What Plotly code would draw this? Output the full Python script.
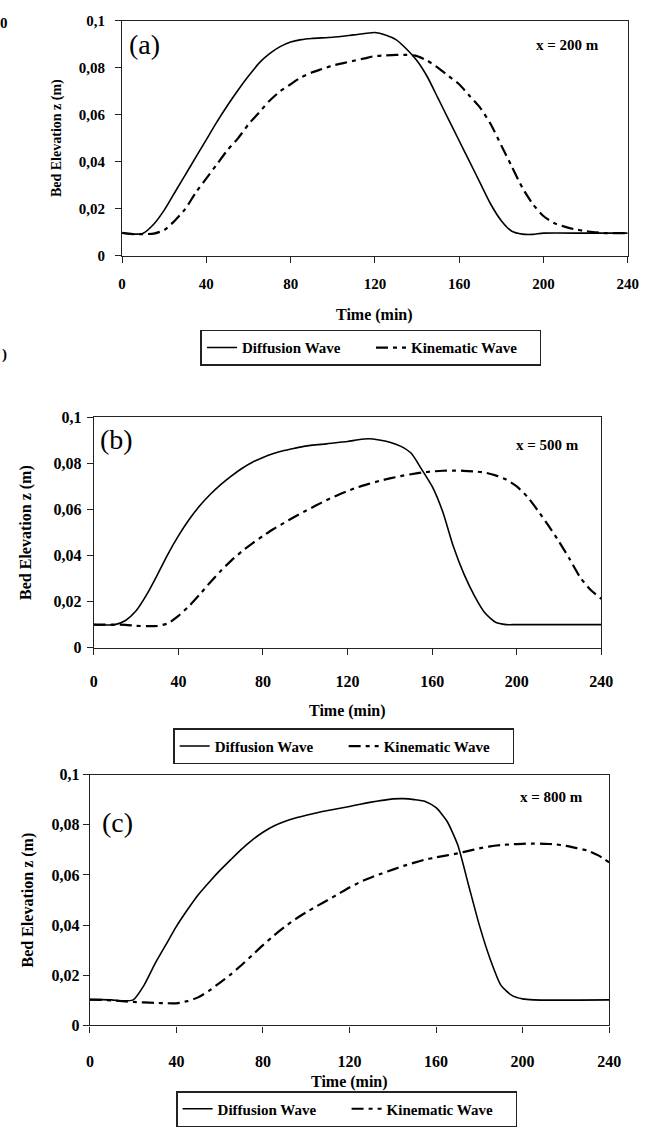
import plotly.graph_objects as go

W, H = 668, 1127

# ---------------- data ----------------
time_diff_a = [0, 5, 10, 15, 20, 25, 30, 35, 40, 45, 50, 55, 60, 65, 70, 75, 80, 85, 90, 100, 110, 120,
               125, 130, 135, 140, 145, 150, 155, 160, 165, 170, 175, 180, 185, 190, 195, 200, 220, 240]
diff_a = [0.0098, 0.0093, 0.0097, 0.0135, 0.0195, 0.027, 0.0345, 0.042, 0.0495, 0.057, 0.064, 0.0705,
          0.0765, 0.082, 0.086, 0.089, 0.091, 0.092, 0.0925, 0.093, 0.094, 0.095, 0.094, 0.092, 0.088,
          0.083, 0.076, 0.067, 0.058, 0.049, 0.040, 0.031, 0.022, 0.015, 0.0105, 0.0093, 0.0092, 0.0097,
          0.0097, 0.0097]

time_kin_a = [0, 5, 10, 15, 20, 25, 30, 35, 40, 45, 50, 55, 60, 65, 70, 75, 80, 85, 90, 95, 100, 105,
              110, 115, 120, 125, 130, 135, 140, 145, 150, 155, 160, 165, 170, 175, 180, 185, 190, 195,
              200, 205, 210, 215, 220, 225, 230, 240]
kin_a = [0.0098, 0.0093, 0.0093, 0.0095, 0.011, 0.015, 0.020, 0.027, 0.033, 0.039, 0.045, 0.050, 0.056,
         0.061, 0.066, 0.070, 0.073, 0.076, 0.078, 0.0795, 0.081, 0.082, 0.083, 0.084, 0.085, 0.0853,
         0.0855, 0.0855, 0.085, 0.083, 0.080, 0.0765, 0.073, 0.068, 0.063, 0.056, 0.047, 0.038, 0.029,
         0.022, 0.017, 0.014, 0.0125, 0.0113, 0.0106, 0.010, 0.0097, 0.0097]

time_diff_b = [0, 5, 10, 15, 20, 25, 30, 35, 40, 45, 50, 55, 60, 65, 70, 75, 80, 85, 90, 95, 100, 110, 120,
               125, 130, 135, 140, 145, 150, 155, 160, 165, 170, 175, 180, 185, 190, 195, 200, 230, 240]
diff_b = [0.0100, 0.0098, 0.0100, 0.0118, 0.0160, 0.023, 0.0315, 0.0405, 0.0485, 0.0555, 0.0615, 0.0665,
          0.0708, 0.0745, 0.0778, 0.0805, 0.0826, 0.0843, 0.0856, 0.0866, 0.0875, 0.0885, 0.0895, 0.0903,
          0.0907, 0.0902, 0.0892, 0.0875, 0.0845, 0.0775, 0.070, 0.059, 0.044, 0.032, 0.0225, 0.015,
          0.0110, 0.0100, 0.0100, 0.0100, 0.0100]

time_kin_b = [0, 5, 10, 15, 20, 25, 30, 35, 40, 45, 50, 55, 60, 65, 70, 75, 80, 85, 90, 95, 100, 105, 110,
              115, 120, 125, 130, 135, 140, 145, 150, 155, 160, 165, 170, 175, 180, 185, 190, 195, 200,
              205, 210, 215, 220, 225, 230, 235, 240]
kin_b = [0.0100, 0.0100, 0.0100, 0.0099, 0.0095, 0.0093, 0.0094, 0.0105, 0.0138, 0.0180, 0.0230, 0.0283,
         0.0333, 0.0378, 0.0418, 0.0453, 0.0485, 0.0515, 0.0542, 0.0568, 0.0593, 0.0617, 0.0640, 0.0661,
         0.0680, 0.0697, 0.0711, 0.0724, 0.0735, 0.0745, 0.0753, 0.0760, 0.0765, 0.0768, 0.0769, 0.0768,
         0.0765, 0.0760, 0.0748, 0.0730, 0.0700, 0.0655, 0.0595, 0.0530, 0.0460, 0.0385, 0.0305, 0.0250,
         0.0212]

time_diff_c = [0, 5, 10, 15, 20, 25, 30, 35, 40, 45, 50, 55, 60, 65, 70, 75, 80, 85, 90, 95, 100, 105, 110,
               115, 120, 125, 130, 135, 140, 145, 150, 155, 160, 165, 170, 175, 180, 185, 190, 195, 200,
               205, 240]
diff_c = [0.0103, 0.0103, 0.0102, 0.0098, 0.0102, 0.016, 0.0245, 0.032, 0.0395, 0.046, 0.052, 0.0570,
          0.0617, 0.0660, 0.0702, 0.0739, 0.0770, 0.0795, 0.0813, 0.0827, 0.0838, 0.0848, 0.0857, 0.0865,
          0.0873, 0.0882, 0.0890, 0.0897, 0.0903, 0.0904, 0.0900, 0.0893, 0.0868, 0.0815, 0.0720, 0.0560,
          0.0400, 0.0265, 0.0160, 0.0120, 0.0106, 0.0102, 0.0102]

time_kin_c = [0, 5, 10, 15, 20, 25, 30, 35, 40, 45, 50, 55, 60, 65, 70, 75, 80, 85, 90, 95, 100, 105, 110,
              115, 120, 125, 130, 135, 140, 145, 150, 155, 160, 165, 170, 175, 180, 185, 190, 195, 200,
              205, 210, 215, 220, 225, 230, 235, 240]
kin_c = [0.0103, 0.0102, 0.0100, 0.0097, 0.0094, 0.0092, 0.0090, 0.0089, 0.0088, 0.0097, 0.0112, 0.0138,
         0.0170, 0.0203, 0.0240, 0.0280, 0.0320, 0.0358, 0.0393, 0.0424, 0.0451, 0.0476, 0.0500, 0.0525,
         0.0550, 0.0572, 0.0590, 0.0606, 0.0621, 0.0636, 0.0649, 0.0661, 0.0670, 0.0678, 0.0686, 0.0696,
         0.0706, 0.0714, 0.0719, 0.0722, 0.0724, 0.0725, 0.0724, 0.0722, 0.0716, 0.0707, 0.0697, 0.0678,
         0.0650]

x_ticks = [0, 40, 80, 120, 160, 200, 240]
y_ticks = [0, 0.02, 0.04, 0.06, 0.08, 0.1]
y_tick_text = ["0", "0,02", "0,04", "0,06", "0,08", "0,1"]
series_names = ["Diffusion Wave", "Kinematic Wave"]
panel_labels = ["(a)", "(b)", "(c)"]
position_labels = ["x = 200 m", "x = 500 m", "x = 800 m"]
x_title = "Time (min)"
y_title = "Bed Elevation z (m)"

SERIF = "Liberation Serif"
KIN_DASH = "12px,5px,4px,5px"


def px_x(p):
    return p / W


def px_y(p):
    return 1 - p / H


def b(s):
    return "<b>" + s + "</b>"


# pixel layout of each panel: (left, right, top, bottom)
panels = [
    dict(box=(121, 639, 13, 252), tick=15, ysize=14, yt_x=55, xt_y=312, leg=(376, 327),
         lab=(144, 37), pos=(577, 38), xstand=8, ystand=7, legname="legend"),
    dict(box=(92, 612, 416, 650), tick=16, ysize=16, yt_x=23, xt_y=714, leg=(348, 732),
         lab=(115, 438), pos=(557, 444), xstand=13, ystand=2, legname="legend2"),
    dict(box=(88, 620, 779, 1034), tick=16, ysize=16, yt_x=25, xt_y=1091, leg=(351, 1101),
         lab=(116, 828), pos=(561, 802), xstand=15, ystand=0, legname="legend3"),
]

data_sets = [
    (time_diff_a, diff_a, time_kin_a, kin_a),
    (time_diff_b, diff_b, time_kin_b, kin_b),
    (time_diff_c, diff_c, time_kin_c, kin_c),
]

fig = go.Figure()
annotations = []
layout_extra = {}

for i, (p, d) in enumerate(zip(panels, data_sets)):
    sfx = "" if i == 0 else str(i + 1)
    xa, ya = "x" + sfx, "y" + sfx
    td, vd, tk, vk = d
    fig.add_trace(go.Scatter(x=td, y=vd, mode="lines", name=b(series_names[0]),
                             line=dict(color="black", width=1.6, shape="spline", smoothing=0.6),
                             xaxis=xa, yaxis=ya, legend=p["legname"]))
    fig.add_trace(go.Scatter(x=tk, y=vk, mode="lines", name=b(series_names[1]),
                             line=dict(color="black", width=2.2, dash=KIN_DASH, shape="spline",
                                       smoothing=0.6),
                             xaxis=xa, yaxis=ya, legend=p["legname"]))
    l, r, t, bt = p["box"]
    layout_extra["xaxis" + sfx] = dict(
        domain=[px_x(l), px_x(r)], anchor=ya, range=[0, 240], tickvals=x_ticks,
        ticktext=[b(str(v)) for v in x_ticks],
        showline=True, mirror=True, linecolor="#222", linewidth=1.2, ticks="outside",
        ticklen=6, tickcolor="#222", tickwidth=1.2, showgrid=False, zeroline=False,
        ticklabelstandoff=p["xstand"],
        tickfont=dict(family=SERIF, size=p["tick"], color="black"))
    layout_extra["yaxis" + sfx] = dict(
        domain=[px_y(bt), px_y(t)], anchor=xa, range=[0, 0.1], tickvals=y_ticks,
        ticktext=[b(s) for s in y_tick_text], showline=True, mirror=True, linecolor="#222",
        linewidth=1.2, ticks="outside", ticklen=6, tickcolor="#222", tickwidth=1.2,
        showgrid=False, zeroline=False, ticklabelstandoff=p["ystand"],
        tickfont=dict(family=SERIF, size=p["tick"], color="black"))
    layout_extra[p["legname"]] = dict(
        x=px_x(p["leg"][0]), y=px_y(p["leg"][1]), xanchor="center", yanchor="top",
        xref="paper", yref="paper", orientation="h", bgcolor="white",
        bordercolor="#222", borderwidth=1.5, itemwidth=30, tracegroupgap=0,
        entrywidth=124, entrywidthmode="pixels",
        font=dict(family=SERIF, size=15, color="black"))
    # axis titles
    annotations.append(dict(text=b(y_title), x=px_x(p["yt_x"]), y=px_y((t + bt) / 2),
                            xref="paper", yref="paper", showarrow=False, textangle=-90,
                            xanchor="center", yanchor="middle",
                            font=dict(family=SERIF, size=p["ysize"], color="black")))
    annotations.append(dict(text=b(x_title), x=px_x((l + r) / 2), y=px_y(p["xt_y"]), xref="paper",
                            yref="paper", showarrow=False, xanchor="center", yanchor="middle",
                            font=dict(family=SERIF, size=16, color="black")))
    annotations.append(dict(text=panel_labels[i], x=px_x(p["lab"][0]), y=px_y(p["lab"][1]),
                            xref="paper", yref="paper", showarrow=False, xanchor="center",
                            yanchor="middle", font=dict(family=SERIF, size=28, color="black")))
    annotations.append(dict(text=b(position_labels[i]), x=px_x(p["pos"][0]), y=px_y(p["pos"][1]),
                            xref="paper", yref="paper", showarrow=False, xanchor="center",
                            yanchor="middle", font=dict(family=SERIF, size=15, color="black")))

# clipped characters on the left edge
annotations.append(dict(text=b("0"), x=0, y=px_y(15), xref="paper", yref="paper", showarrow=False,
                        xanchor="center", yanchor="middle",
                        font=dict(family=SERIF, size=15, color="black")))
annotations.append(dict(text=b(")"), x=0, y=px_y(352), xref="paper", yref="paper", showarrow=False,
                        xanchor="center", yanchor="middle",
                        font=dict(family=SERIF, size=15, color="black")))

fig.update_layout(
    width=W, height=H, margin=dict(l=0, r=0, t=0, b=0),
    paper_bgcolor="white", plot_bgcolor="white", showlegend=True,
    font=dict(family=SERIF, color="black"),
    annotations=annotations, **layout_extra)

fig.write_html("out.html")
